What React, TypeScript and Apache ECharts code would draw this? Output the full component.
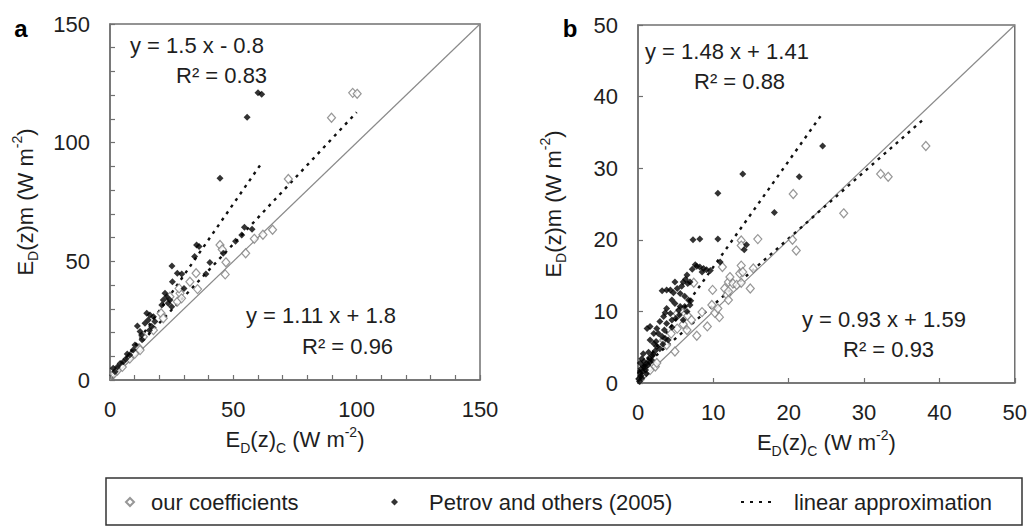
import React, { useEffect, useRef } from "react";
import * as echarts from "echarts";

const FONT = '"Liberation Sans", Arial, Helvetica, sans-serif';
const TXT = "#1e1e1e";
const AXC = "#707070";

// Panel a
const ourA: [number, number][] = [
  [1.5, 2.5], [3, 4], [5, 5.5], [8, 9], [10, 11], [11.9, 13.3], [12.2, 12.6], [13.5, 18.2], [17.6, 21],
  [20.7, 28.1], [21.6, 26], [24.3, 35.1], [27.3, 33], [28.4, 36.5], [29, 34.4], [28, 38.6],
  [32.4, 41.4], [34.9, 45], [35.5, 38.3], [44.6, 56.9], [45.5, 55], [47, 49.6], [46.7, 44.5],
  [55, 53.4], [58.5, 59.5], [62, 61.2], [65.9, 63.3], [72.3, 84.7], [89.8, 110.5], [98.4, 121], [100.2, 120.6],
];
const petA: [number, number][] = [
  [1.3, 4.9], [2, 3.5], [3, 5.5], [4.1, 7], [5.4, 7.7], [6.5, 9], [7, 11], [8, 10.5], [9.4, 12.6],
  [10.1, 14.7], [11.1, 22.8], [12.2, 20.4], [12.8, 19], [13, 17], [14.2, 23.9], [14.9, 28.1],
  [15.5, 25.3], [16, 21], [16.2, 27.4], [16.9, 22.5], [17.6, 26.7], [18.2, 24.6], [21, 31.6],
  [21.6, 33.7], [22.3, 36.5], [23, 35.1], [23.6, 32.3], [24.3, 33.7], [25, 30.9], [25.1, 48],
  [25.3, 41.4], [27.3, 45], [29.1, 44.7], [30, 38.6], [34.3, 52], [35.1, 56.9], [36.1, 56.2],
  [38.9, 44.7], [40.5, 49.5], [44.6, 85], [45.9, 53.4], [50.9, 58.5], [53.4, 61.1], [54.5, 64.4],
  [57.6, 63.5], [55.6, 110.7], [60, 121], [61.5, 120.4],
];
// linear approximations: [slope, intercept, xStart, xEnd]
const fitA1 = [1.5, -0.8, 1, 61];
const fitA2 = [1.11, 1.8, 0, 100];

// Panel b
const ourB: [number, number][] = [
  [0.3, 0.5], [0.8, 1.2], [1.6, 1.8], [2.3, 2.3], [2.5, 2.8], [3.4, 6], [3.8, 5.3], [4.4, 6.9],
  [4.9, 4.4], [5.2, 7.6], [5.2, 9.7], [5.6, 10.1], [6, 8.2], [6.5, 7.4], [6.6, 9.4], [7.1, 8.8],
  [7.4, 14], [7.8, 6.6], [8.5, 9.9], [9.2, 7.9], [9.8, 10.9], [9.9, 13], [10.2, 9.8], [10.6, 10.4],
  [10.8, 9.2], [11.2, 16.2], [11.5, 13.2], [11.8, 12.3], [12, 11.6], [12, 12.8], [12, 14.1],
  [12.2, 14.8], [12.6, 13.9], [13.1, 13.7], [13.5, 15.3], [13.7, 16.4], [13.7, 14], [13.9, 15.5],
  [13.7, 19.9], [13.7, 19.2], [14.9, 13.2], [15.3, 16], [15.9, 20.1], [20.5, 20], [21, 18.5],
  [20.6, 26.4], [27.3, 23.7], [32.2, 29.2], [33.2, 28.8], [38.2, 33.1],
];
const petB: [number, number][] = [
  [0.2, 0.2], [0.5, 0.7], [0.3, 1.4], [1, 1.8], [0.4, 1], [1.3, 2.5], [0.7, 2.3], [1.2, 2.8],
  [0.3, 2.8], [0.8, 3], [1.5, 3.5], [0.5, 3.4], [0.7, 4.1], [2, 4], [1.8, 3.2], [2.3, 4.5],
  [0.1, 0.6], [0.6, 1.6], [1.1, 1.3], [0.9, 2.2], [1.6, 2.9], [1.9, 3.8], [0.4, 2], [1.4, 4.3],
  [2.9, 4.8], [2.5, 5.1], [2.1, 5.5], [1.6, 6], [3.3, 5.4], [2.4, 5.8], [4, 6], [3.6, 6.2],
  [3.2, 6.5], [2.1, 6.9], [2.7, 6.9], [1.2, 7.6], [1.6, 7.9], [2.5, 7.6], [3.5, 7.4], [4.5, 7.8],
  [3.8, 8.3], [2.9, 8.6], [4.5, 8.8], [3.4, 9.3], [4.3, 9.7], [5, 9], [5.5, 9.5], [6, 8.8],
  [3.8, 10.4], [3.6, 9.8], [5.4, 10.2], [6.5, 10], [5.6, 10.7], [6.2, 10.7], [4.9, 11.1],
  [6.9, 10.9], [4.5, 11.6], [6.7, 11.6], [7, 11.5], [6.2, 12.1], [5.6, 12.5], [4.7, 12.6],
  [3.8, 13], [4.3, 13], [3.2, 12.9], [5.2, 13.2], [5.8, 13.5], [6.6, 13.9], [6, 14.1],
  [6.9, 14.1], [4.9, 14.1], [6.3, 14.5], [6.5, 15.1], [9.6, 15.7], [9.1, 15.8], [8.7, 16],
  [8.2, 16.2], [7.6, 16.5], [8.5, 15.5], [7.2, 15.9], [7.8, 16.3], [10.9, 16.9], [14.1, 18.6],
  [14.4, 19.3], [7.3, 20], [8.2, 20.1], [10.6, 20.1], [18.1, 23.8], [10.6, 26.5], [21.4, 28.8],
  [13.9, 29.2], [24.5, 33.1],
];
const fitB1 = [1.48, 1.41, 0, 24.5];
const fitB2 = [0.93, 1.59, 0, 38];

const fitLine = (f: number[]) => [
  [f[2], f[0] * f[2] + f[1]],
  [f[3], f[0] * f[3] + f[1]],
];

const richName = {
  n: { fontSize: 22, fontFamily: FONT, color: TXT, lineHeight: 30 },
  s: { fontSize: 14, fontFamily: FONT, color: TXT, lineHeight: 16, verticalAlign: "bottom" },
  p: { fontSize: 14, fontFamily: FONT, color: TXT, lineHeight: 16, verticalAlign: "top" },
};

const xName = "{n|E}{s|D}{n|(z)}{s|C}{n| (W m}{p|-2}{n|)}";
const yName = "{n|E}{s|D}{n|(z)m (W m}{p|-2}{n|)}";

function axis(gridIndex: number, max: number, step: number, labelStep: number, name: string, isY: boolean) {
  return {
    type: "value",
    gridIndex,
    min: 0,
    max,
    interval: step,
    name,
    nameLocation: "middle",
    nameGap: isY ? 70 : 42,
    nameTextStyle: { rich: richName },
    axisLine: { show: true, lineStyle: { color: AXC, width: 1.5 } },
    axisTick: { show: true, inside: true, length: 5, lineStyle: { color: AXC, width: 1.2 } },
    axisLabel: {
      show: true,
      fontSize: 22,
      fontFamily: FONT,
      color: TXT,
      margin: isY ? 20 : 18,
      formatter: (v: number) => (Math.round(v) % labelStep === 0 ? String(v) : ""),
    },
    splitLine: { show: false },
  };
}

const lineStyleFit = { color: "#111", width: 2.4, type: [3, 5] as number[] };

export default function App() {
  const ref = useRef<HTMLDivElement>(null);
  useEffect(() => {
    if (!ref.current) return;
    const chart = echarts.init(ref.current, undefined, { renderer: "svg" });
    const ourStyle = { color: "#ffffff", borderColor: "#7d7d7d", borderWidth: 1.2 };
    const petStyle = { color: "#000000" };
    const legendText = { fontSize: 22, fontFamily: FONT, color: TXT };
    const option: any = {
      animation: false,
      backgroundColor: "#ffffff",
      textStyle: { fontFamily: FONT },
      grid: [
        { left: 110, top: 24, width: 370, height: 356, show: true, borderColor: AXC, borderWidth: 1.5, backgroundColor: "transparent" },
        { left: 638, top: 25, width: 377, height: 358, show: true, borderColor: AXC, borderWidth: 1.5, backgroundColor: "transparent" },
      ],
      xAxis: [
        { ...axis(0, 150, 10, 50, xName, false) },
        { ...axis(1, 50, 10, 10, xName, false) },
      ],
      yAxis: [
        { ...axis(0, 150, 10, 50, yName, true) },
        { ...axis(1, 50, 10, 10, yName, true) },
      ],
      legend: [
        {
          data: ["our coefficients"], left: 125, top: 491, padding: 0, itemWidth: 8, itemHeight: 8,
          textStyle: { ...legendText, padding: [0, 0, 0, 12] }, selectedMode: false,
        },
        {
          data: ["Petrov and others (2005)"], left: 391, top: 491, padding: 0, itemWidth: 7, itemHeight: 7,
          textStyle: { ...legendText, padding: [0, 0, 0, 26] }, selectedMode: false,
        },
        {
          data: ["linear approximation"], left: 740, top: 491, padding: 0, itemWidth: 36, itemHeight: 14,
          itemStyle: { opacity: 0 },
          lineStyle: { color: "#111", width: 2, type: [3, 6] },
          textStyle: { ...legendText, padding: [0, 0, 0, 12] }, selectedMode: false,
        },
      ],
      graphic: [
        { type: "rect", shape: { x: 106, y: 478, width: 916, height: 47 }, style: { fill: "none", stroke: "#333", lineWidth: 1.5 } },
        { type: "text", x: 21, y: 28, style: { text: "a", font: `bold 24px ${FONT}`, fill: "#000", textAlign: "center", textVerticalAlign: "middle" } },
        { type: "text", x: 570, y: 28, style: { text: "b", font: `bold 24px ${FONT}`, fill: "#000", textAlign: "center", textVerticalAlign: "middle" } },
        { type: "text", x: 130, y: 45, style: { text: "y = 1.5 x - 0.8", font: `22px ${FONT}`, fill: TXT, textAlign: "left", textVerticalAlign: "middle" } },
        { type: "text", x: 176, y: 75, style: { text: "R² = 0.83", font: `22px ${FONT}`, fill: TXT, textAlign: "left", textVerticalAlign: "middle" } },
        { type: "text", x: 246, y: 315, style: { text: "y = 1.11 x + 1.8", font: `22px ${FONT}`, fill: TXT, textAlign: "left", textVerticalAlign: "middle" } },
        { type: "text", x: 302, y: 346, style: { text: "R² = 0.96", font: `22px ${FONT}`, fill: TXT, textAlign: "left", textVerticalAlign: "middle" } },
        { type: "text", x: 645, y: 51, style: { text: "y = 1.48 x + 1.41", font: `22px ${FONT}`, fill: TXT, textAlign: "left", textVerticalAlign: "middle" } },
        { type: "text", x: 694, y: 81, style: { text: "R² = 0.88", font: `22px ${FONT}`, fill: TXT, textAlign: "left", textVerticalAlign: "middle" } },
        { type: "text", x: 802, y: 319, style: { text: "y = 0.93 x + 1.59", font: `22px ${FONT}`, fill: TXT, textAlign: "left", textVerticalAlign: "middle" } },
        { type: "text", x: 843, y: 349, style: { text: "R² = 0.93", font: `22px ${FONT}`, fill: TXT, textAlign: "left", textVerticalAlign: "middle" } },
      ],
      series: [
        { type: "line", name: "1:1", xAxisIndex: 0, yAxisIndex: 0, data: [[0, 0], [150, 150]], symbol: "none", lineStyle: { color: "#8a8a8a", width: 1.2 }, silent: true, z: 1 },
        { type: "line", name: "1:1", xAxisIndex: 1, yAxisIndex: 1, data: [[0, 0], [50, 50]], symbol: "none", lineStyle: { color: "#8a8a8a", width: 1.2 }, silent: true, z: 1 },
        { type: "scatter", name: "our coefficients", xAxisIndex: 0, yAxisIndex: 0, data: ourA, symbol: "diamond", symbolSize: [8, 9], itemStyle: ourStyle, z: 3 },
        { type: "scatter", name: "our coefficients", xAxisIndex: 1, yAxisIndex: 1, data: ourB, symbol: "diamond", symbolSize: [8, 9], itemStyle: ourStyle, z: 3 },
        { type: "scatter", name: "Petrov and others (2005)", xAxisIndex: 0, yAxisIndex: 0, data: petA, symbol: "diamond", symbolSize: 7, itemStyle: petStyle, z: 4 },
        { type: "scatter", name: "Petrov and others (2005)", xAxisIndex: 1, yAxisIndex: 1, data: petB, symbol: "diamond", symbolSize: 7, itemStyle: petStyle, z: 4 },
        { type: "line", name: "linear approximation", xAxisIndex: 0, yAxisIndex: 0, data: fitLine(fitA1), symbol: "none", lineStyle: lineStyleFit, itemStyle: { color: "#111" }, z: 2 },
        { type: "line", name: "linear approximation", xAxisIndex: 0, yAxisIndex: 0, data: fitLine(fitA2), symbol: "none", lineStyle: lineStyleFit, itemStyle: { color: "#111" }, z: 2 },
        { type: "line", name: "linear approximation", xAxisIndex: 1, yAxisIndex: 1, data: fitLine(fitB1), symbol: "none", lineStyle: lineStyleFit, itemStyle: { color: "#111" }, z: 2 },
        { type: "line", name: "linear approximation", xAxisIndex: 1, yAxisIndex: 1, data: fitLine(fitB2), symbol: "none", lineStyle: lineStyleFit, itemStyle: { color: "#111" }, z: 2 },
      ],
    };
    chart.setOption(option);
    return () => chart.dispose();
  }, []);
  return <div ref={ref} style={{ width: 1030, height: 527, position: "absolute", left: 0, top: 0 }} />;
}
